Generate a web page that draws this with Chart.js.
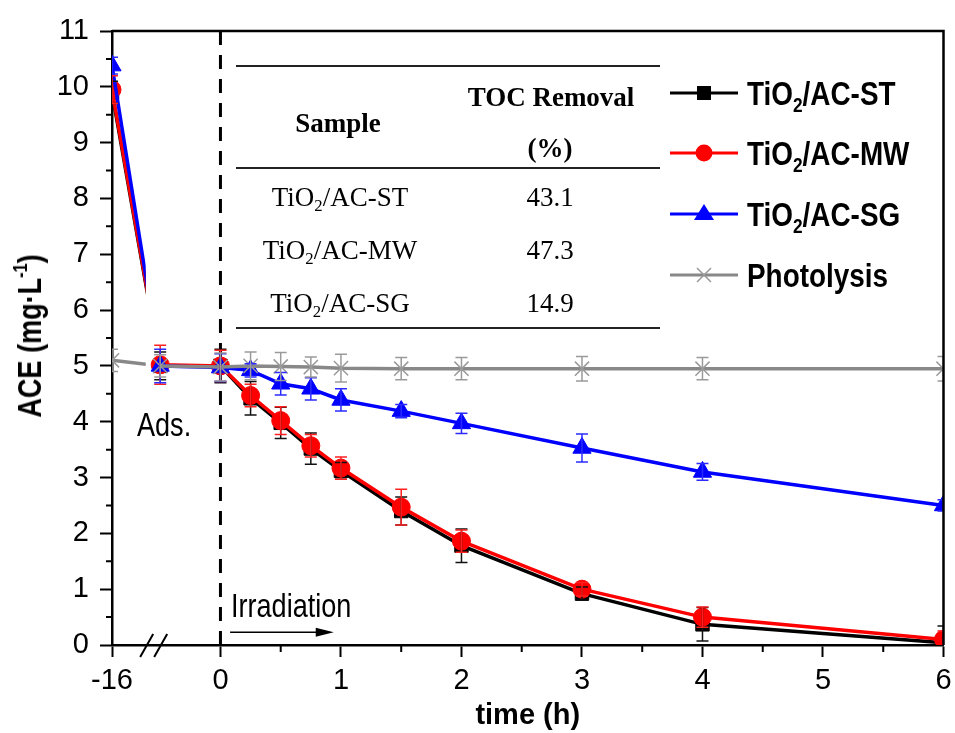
<!DOCTYPE html>
<html>
<head>
<meta charset="utf-8">
<script src="https://cdn.jsdelivr.net/npm/chart.js@4.4.1/dist/chart.umd.min.js"></script>
<style>
  html, body { margin: 0; padding: 0; background: #fff; }
  #wrap { position: relative; width: 955px; height: 733px; overflow: hidden; }
  #chart { position: absolute; left: 0; top: 0; }
  .sans { font-family: 'Liberation Sans', Arial, sans-serif; color: #000; }
  .serif { font-family: 'Liberation Serif', 'Times New Roman', serif; color: #000; font-size: 27px; }
  .abs { position: absolute; white-space: nowrap; }
  .c { transform: translate(-50%, -50%); }
  .squeeze { transform: scaleX(0.82); transform-origin: 0 50%; }
  .hl { position: absolute; left: 236px; width: 424px; height: 2px; background: #222; }
  #ytitle { left: 30px; top: 336px; transform: translate(-50%, -50%) rotate(-90deg) scaleX(0.82); font-weight: bold; font-size: 33px; }
  #ytitle sup { font-size: 0.6em; vertical-align: 0.7em; line-height: 0; }
  .legrow { position: absolute; left: 668px; height: 40px; display: flex; align-items: center; }
  .legrow svg { margin-right: 7px; flex: none; }
  .legrow span { display: inline-block; font-weight: bold; font-size: 34px; line-height: 40px; transform: scaleX(0.82); transform-origin: 0 50%; }
  sub { font-size: 0.62em; vertical-align: -0.35em; line-height: 0; }
</style>
</head>
<body>
<div id="wrap">
  <canvas id="chart" width="955" height="733"></canvas>
  <div id="ytitle" class="abs sans">ACE (mg·L<sup>-1</sup>)</div>
  <div class="abs sans squeeze" style="left:137px; top:406px; font-size:33px;">Ads.</div>
  <div class="abs sans squeeze" style="left:231px; top:587px; font-size:33px;">Irradiation</div>
  <div id="table"></div>
  <div id="legend"></div>
</div>
<script>
'use strict';

// --- data ---
const times = [-16, -0.5, 0, 0.25, 0.5, 0.75, 1, 1.5, 2, 3, 4, 6];

const stValues = [9.9, 5.0, 5.0, 4.42, 3.98, 3.52, 3.12, 2.40, 1.78, 0.92, 0.37, 0.04];
const stErrors = [0.2, 0.25, 0.3, 0.3, 0.28, 0.28, 0.15, 0.25, 0.3, 0.12, 0.3, 0.3];

const mwValues = [9.95, 5.02, 5.0, 4.47, 4.02, 3.57, 3.17, 2.47, 1.86, 1.0, 0.5, 0.1];
const mwErrors = [0.25, 0.35, 0.28, 0.2, 0.25, 0.2, 0.2, 0.32, 0.2, 0.12, 0.18, 0.15];

const sgValues = [10.38, 5.0, 4.97, 4.92, 4.68, 4.59, 4.39, 4.19, 3.97, 3.53, 3.1, 2.5];
const sgErrors = [0.15, 0.3, 0.25, 0.12, 0.2, 0.2, 0.2, 0.12, 0.18, 0.25, 0.15, 0.1];

const photoValues = [5.1, 5.0, 4.98, 5.0, 4.99, 4.98, 4.96, 4.95, 4.95, 4.95, 4.95, 4.95];
const photoErrors = [0.2, 0.2, 0.25, 0.25, 0.25, 0.18, 0.25, 0.2, 0.2, 0.22, 0.2, 0.22];

const seriesNames = ['TiO2/AC-ST', 'TiO2/AC-MW', 'TiO2/AC-SG', 'Photolysis'];

const xTickTimes = [-16, 0, 1, 2, 3, 4, 5, 6];
const yTicks = [0, 1, 2, 3, 4, 5, 6, 7, 8, 9, 10, 11];

const tableSamples = ['TiO2/AC-ST', 'TiO2/AC-MW', 'TiO2/AC-SG'];
const tocRemoval = ['43.1', '47.3', '14.9'];

// --- broken time axis: -16 h sits just left of the break ---
const AXIS_START = -0.9;
const BREAK_CENTER = -0.55;
const GAP_START = -0.62;
function pos(t) { return t < -1 ? AXIS_START : t; }

const SANS = "'Liberation Sans', Arial, sans-serif";

const styles = [
  { color: '#000000', bar: '#111111', point: 'rect', radius: 9.5, order: 3 },
  { color: '#ff0000', bar: '#ff2020', point: 'circle', radius: 9, order: 2 },
  { color: '#0000ff', bar: '#2b2bff', point: 'triangle', radius: 10.5, order: 1 },
  { color: '#888888', bar: '#9a9a9a', point: 'crossRot', radius: 10, order: 0 },
];
const seriesValues = [stValues, mwValues, sgValues, photoValues];
const seriesErrors = [stErrors, mwErrors, sgErrors, photoErrors];

const datasets = [];
seriesValues.forEach((vals, s) => {
  const st = styles[s];
  const pts = times.map((t, i) => ({ x: pos(t), y: vals[i] }));
  const crossed = st.point === 'crossRot';
  const common = {
    borderColor: st.color,
    backgroundColor: st.color,
    pointBackgroundColor: crossed ? 'transparent' : st.color,
    pointBorderColor: crossed ? st.bar : st.color,
    pointBorderWidth: crossed ? 1.5 : 1,
    pointStyle: st.point,
    borderWidth: 3.5,
    tension: 0,
    order: st.order,
  };
  // stretch from -16 h up to the axis break
  datasets.push(Object.assign({}, common, { label: seriesNames[s] + ' (ads.)', lead: true, data: pts.slice(0, 2), pointRadius: [st.radius, 0] }));
  datasets.push(Object.assign({}, common, { label: seriesNames[s], data: pts.slice(1), pointRadius: st.radius }));
});

const decorPlugin = {
  id: 'decor',
  beforeDatasetsDraw(chart) {
    const { ctx, chartArea: a, scales: { x } } = chart;
    const x0 = x.getPixelForValue(0);
    ctx.save();
    ctx.strokeStyle = '#000';
    ctx.lineWidth = 3;
    ctx.setLineDash([14, 10]);
    ctx.beginPath();
    ctx.moveTo(x0, a.top);
    ctx.lineTo(x0, a.bottom);
    ctx.stroke();
    ctx.restore();
  },
  beforeDatasetDraw(chart, args) {
    if (!chart.data.datasets[args.index].lead) return;
    const { ctx, scales: { x } } = chart;
    ctx.save();
    ctx.beginPath();
    ctx.rect(0, 0, x.getPixelForValue(GAP_START), chart.height);
    ctx.clip();
  },
  afterDatasetDraw(chart, args) {
    if (chart.data.datasets[args.index].lead) chart.ctx.restore();
  },
  afterDatasetsDraw(chart) {
    const { ctx, chartArea: a, scales: { x, y } } = chart;
    ctx.save();
    ctx.beginPath();
    ctx.rect(a.left, a.top, a.right - a.left, a.bottom - a.top);
    ctx.clip();
    ctx.lineWidth = 1.5;
    seriesValues.forEach((vals, s) => {
      ctx.strokeStyle = styles[s].bar;
      vals.forEach((v, i) => {
        const e = seriesErrors[s][i];
        const px = x.getPixelForValue(pos(times[i]));
        const top = y.getPixelForValue(v + e);
        const bot = y.getPixelForValue(v - e);
        ctx.beginPath();
        ctx.moveTo(px, top); ctx.lineTo(px, bot);
        ctx.moveTo(px - 6, top); ctx.lineTo(px + 6, top);
        ctx.moveTo(px - 6, bot); ctx.lineTo(px + 6, bot);
        ctx.stroke();
      });
    });
    ctx.restore();
  },
  afterDraw(chart) {
    const { ctx, chartArea: a, scales: { x, y } } = chart;
    ctx.save();
    ctx.strokeStyle = '#000';
    // box frame: top and right
    ctx.lineWidth = 2.5;
    ctx.beginPath();
    ctx.moveTo(a.left, a.top); ctx.lineTo(a.right, a.top); ctx.lineTo(a.right, a.bottom);
    ctx.stroke();
    // minor ticks
    ctx.lineWidth = 2;
    ctx.beginPath();
    for (let t = 0.5; t < 6; t += 1) {
      const px = x.getPixelForValue(t);
      ctx.moveTo(px, a.bottom); ctx.lineTo(px, a.bottom + 7);
    }
    for (let v = 0.5; v < 11; v += 1) {
      const py = y.getPixelForValue(v);
      ctx.moveTo(a.left, py); ctx.lineTo(a.left - 6, py);
    }
    ctx.stroke();
    // axis break marks
    const bx = x.getPixelForValue(BREAK_CENTER);
    ctx.lineWidth = 2;
    ctx.beginPath();
    [-7, 7].forEach((d) => {
      ctx.moveTo(bx + d - 7, a.bottom + 12);
      ctx.lineTo(bx + d + 6, a.bottom - 11);
    });
    ctx.stroke();
    // irradiation arrow
    const ay = y.getPixelForValue(0.23);
    const ax1 = x.getPixelForValue(0.08);
    const ax2 = x.getPixelForValue(0.94);
    ctx.lineWidth = 1.5;
    ctx.beginPath();
    ctx.moveTo(ax1, ay); ctx.lineTo(ax2 - 12, ay);
    ctx.stroke();
    ctx.fillStyle = '#000';
    ctx.beginPath();
    ctx.moveTo(ax2, ay); ctx.lineTo(ax2 - 18, ay - 4.5); ctx.lineTo(ax2 - 18, ay + 4.5);
    ctx.closePath();
    ctx.fill();
    ctx.restore();
  },
};

new Chart(document.getElementById('chart'), {
  type: 'line',
  data: { datasets },
  plugins: [decorPlugin],
  options: {
    responsive: false,
    animation: false,
    events: [],
    layout: { padding: { top: 31, right: 4, left: 0, bottom: 0 } },
    plugins: { legend: { display: false }, tooltip: { enabled: false } },
    scales: {
      x: {
        type: 'linear',
        min: pos(xTickTimes[0]),
        max: xTickTimes[xTickTimes.length - 1],
        afterBuildTicks: (s) => { s.ticks = xTickTimes.map((t) => ({ value: pos(t) })); },
        afterFit: (s) => { s.height = 88; s.paddingLeft = 0; s.paddingRight = 0; },
        ticks: {
          autoSkip: false, maxRotation: 0, color: '#000', padding: 7,
          font: { family: SANS, size: 29 },
          callback: (v, i) => String(xTickTimes[i]),
        },
        grid: { drawOnChartArea: false, tickLength: 12, tickWidth: 2, color: '#000' },
        border: { width: 2.5, color: '#000' },
        title: {
          display: true, text: 'time (h)', color: '#000', padding: { top: 0, bottom: 0 },
          font: { family: SANS, size: 29, weight: 'bold' },
        },
      },
      y: {
        min: yTicks[0],
        max: yTicks[yTicks.length - 1],
        afterBuildTicks: (s) => { s.ticks = yTicks.map((v) => ({ value: v })); },
        afterFit: (s) => { s.width = 112; s.paddingTop = 0; s.paddingBottom = 0; },
        ticks: { color: '#000', padding: 11, font: { family: SANS, size: 29 } },
        grid: { drawOnChartArea: false, tickLength: 12, tickWidth: 2, color: '#000' },
        border: { width: 2.5, color: '#000' },
      },
    },
  },
});

// --- inset table ---
function sub2(name) { return name.replace('TiO2', 'TiO<sub>2</sub>'); }
const table = document.getElementById('table');
let th = '';
[66, 168, 328].forEach((yy) => { th += '<div class="hl" style="top:' + (yy - 1) + 'px"></div>'; });
th += '<div class="abs c serif" style="left:338px; top:123px; font-weight:bold;">Sample</div>';
th += '<div class="abs c serif" style="left:551px; top:97px; font-weight:bold;">TOC Removal</div>';
th += '<div class="abs c serif" style="left:550px; top:148px; font-weight:bold;">(%)</div>';
tableSamples.forEach((name, i) => {
  const yy = 197 + i * 53;
  th += '<div class="abs c serif" style="left:340px; top:' + yy + 'px;">' + sub2(name) + '</div>';
  th += '<div class="abs c serif" style="left:550px; top:' + yy + 'px;">' + tocRemoval[i] + '</div>';
});
table.innerHTML = th;

// --- legend ---
function markerSvg(st) {
  const line = '<line x1="2" y1="15" x2="70" y2="15" stroke="' + st.color + '" stroke-width="3"/>';
  let m = '';
  if (st.point === 'rect') m = '<rect x="29" y="8" width="14" height="14" fill="' + st.color + '"/>';
  else if (st.point === 'circle') m = '<circle cx="36" cy="15" r="8.5" fill="' + st.color + '"/>';
  else if (st.point === 'triangle') m = '<polygon points="36,5 46,21 26,21" fill="' + st.color + '"/>';
  else m = '<path d="M29 8 L43 22 M43 8 L29 22" stroke="' + st.bar + '" stroke-width="1.5"/>';
  return '<svg width="72" height="30" viewBox="0 0 72 30">' + line + m + '</svg>';
}
const legend = document.getElementById('legend');
let lh = '';
const legendY = [93, 153, 214, 275];
seriesNames.forEach((name, i) => {
  lh += '<div class="legrow sans" style="top:' + (legendY[i] - 20) + 'px">' + markerSvg(styles[i]) + '<span>' + sub2(name) + '</span></div>';
});
legend.innerHTML = lh;
</script>
</body>
</html>
